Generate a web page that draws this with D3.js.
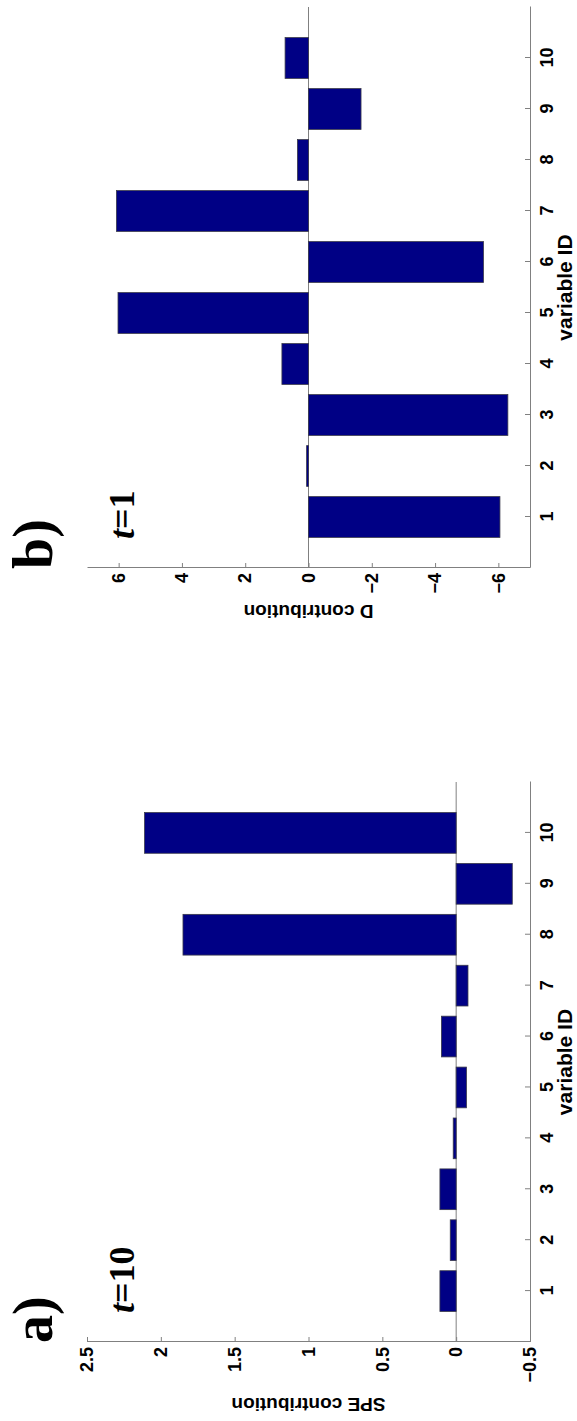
<!DOCTYPE html>
<html>
<head>
<meta charset="utf-8">
<script src="https://cdn.jsdelivr.net/npm/d3@7"></script>
<style>
  body { margin: 0; background: #fff; }
  .axis-label { font-family: "Liberation Sans", Arial, sans-serif; font-weight: bold; fill: #000; }
  .panel-tag { font-family: "Liberation Serif", "Times New Roman", serif; font-weight: bold; fill: #000; }
</style>
</head>
<body>
<div class="chart"></div>
<script>
// page is portrait, the figure itself is drawn landscape and turned -90deg
var svgWidth = 577;
var svgHeight = 1421;

// data
var variableIds = [1, 2, 3, 4, 5, 6, 7, 8, 9, 10];
var speValues = [0.11, 0.04, 0.11, 0.02, -0.07, 0.10, -0.08, 1.85, -0.38, 2.11];
var dValues = [-6.05, 0.06, -6.30, 0.84, 6.02, -5.53, 6.07, 0.35, -1.66, 0.74];
var speTicks = [-0.5, 0, 0.5, 1, 1.5, 2, 2.5];
var dTicks = [-6, -4, -2, 0, 2, 4, 6];

var svg = d3
  .select(".chart")
  .append("svg")
  .attr("width", svgWidth)
  .attr("height", svgHeight);

// landscape figure group (1421 wide, 577 tall)
var fig = svg.append("g")
  .attr("transform", `translate(0, ${svgHeight}) rotate(-90)`);

var plotTop = 87, plotBottom = 530;
var axisColor = "#808080";

function fmt(d) {
  return String(d).replace("-", "\u2212");
}

function drawPanel(opts) {
  var g = fig.append("g");

  var xScale = d3.scaleLinear()
    .domain([0, 11])
    .range([opts.left, opts.right]);

  var yScale = d3.scaleLinear()
    .domain(opts.domain)
    .range([plotBottom, plotTop]);

  var barW = xScale(0.8) - xScale(0);

  // zero baseline
  g.append("line")
    .attr("x1", xScale(0))
    .attr("x2", xScale(11))
    .attr("y1", yScale(0))
    .attr("y2", yScale(0))
    .attr("stroke", axisColor)
    .attr("stroke-width", 1);

  // bars
  g.selectAll("rect")
    .data(opts.values)
    .enter()
    .append("rect")
    .attr("x", (d, i) => xScale(variableIds[i]) - barW / 2)
    .attr("y", d => yScale(Math.max(d, 0)))
    .attr("width", barW)
    .attr("height", d => Math.abs(yScale(d) - yScale(0)))
    .attr("fill", "#000085")
    .attr("stroke", "#3a3a4a")
    .attr("stroke-width", 0.8);

  // x axis (variable ID)
  var bottomAxis = d3.axisBottom(xScale)
    .tickValues(variableIds)
    .tickSizeInner(-5)
    .tickSizeOuter(0)
    .tickPadding(10)
    .tickFormat(d3.format("d"));

  var xAxis = g.append("g")
    .attr("transform", `translate(0, ${plotBottom})`)
    .call(bottomAxis);

  // y axis
  var leftAxis = d3.axisLeft(yScale)
    .tickValues(opts.ticks)
    .tickSizeInner(-5)
    .tickSizeOuter(0)
    .tickPadding(5)
    .tickFormat(fmt);

  var yAxis = g.append("g")
    .attr("transform", `translate(${opts.left}, 0)`)
    .call(leftAxis);

  [xAxis, yAxis].forEach(function (ax) {
    ax.attr("font-family", "Liberation Sans, Arial, sans-serif")
      .attr("font-size", 18)
      .attr("font-weight", "bold");
    ax.select(".domain").attr("stroke", axisColor);
    ax.selectAll(".tick line").attr("stroke", axisColor);
    ax.selectAll(".tick text").attr("fill", "#000");
  });

  // axis labels
  g.append("text")
    .attr("class", "axis-label")
    .attr("x", xScale(5.5))
    .attr("y", 572)
    .attr("text-anchor", "middle")
    .style("font-size", "21px")
    .text("variable ID");

  g.append("text")
    .attr("class", "axis-label")
    .attr("transform", "rotate(-90)")
    .attr("x", -yScale((opts.domain[0] + opts.domain[1]) / 2))
    .attr("y", opts.labelX)
    .attr("text-anchor", "middle")
    .style("font-size", "19px")
    .text(opts.label);

  // panel tag and time label
  g.append("text")
    .attr("class", "panel-tag")
    .attr("x", opts.left - 1)
    .attr("y", 52)
    .style("font-size", "56px")
    .text(opts.tag);

  var t = g.append("text")
    .attr("class", "panel-tag")
    .attr("x", opts.left + 29)
    .attr("y", 134)
    .style("font-size", "36px");
  t.append("tspan").style("font-style", "italic").text("t");
  t.append("tspan").text("=" + opts.time);
}

drawPanel({
  left: 79, right: 639,
  domain: [-0.5, 2.5], ticks: speTicks, values: speValues,
  label: "SPE contribution", labelX: 23, tag: "a)", time: "10"
});

drawPanel({
  left: 853, right: 1414,
  domain: [-7, 7], ticks: dTicks, values: dValues,
  label: "D contribution", labelX: 816, tag: "b)", time: "1"
});
</script>
</body>
</html>
